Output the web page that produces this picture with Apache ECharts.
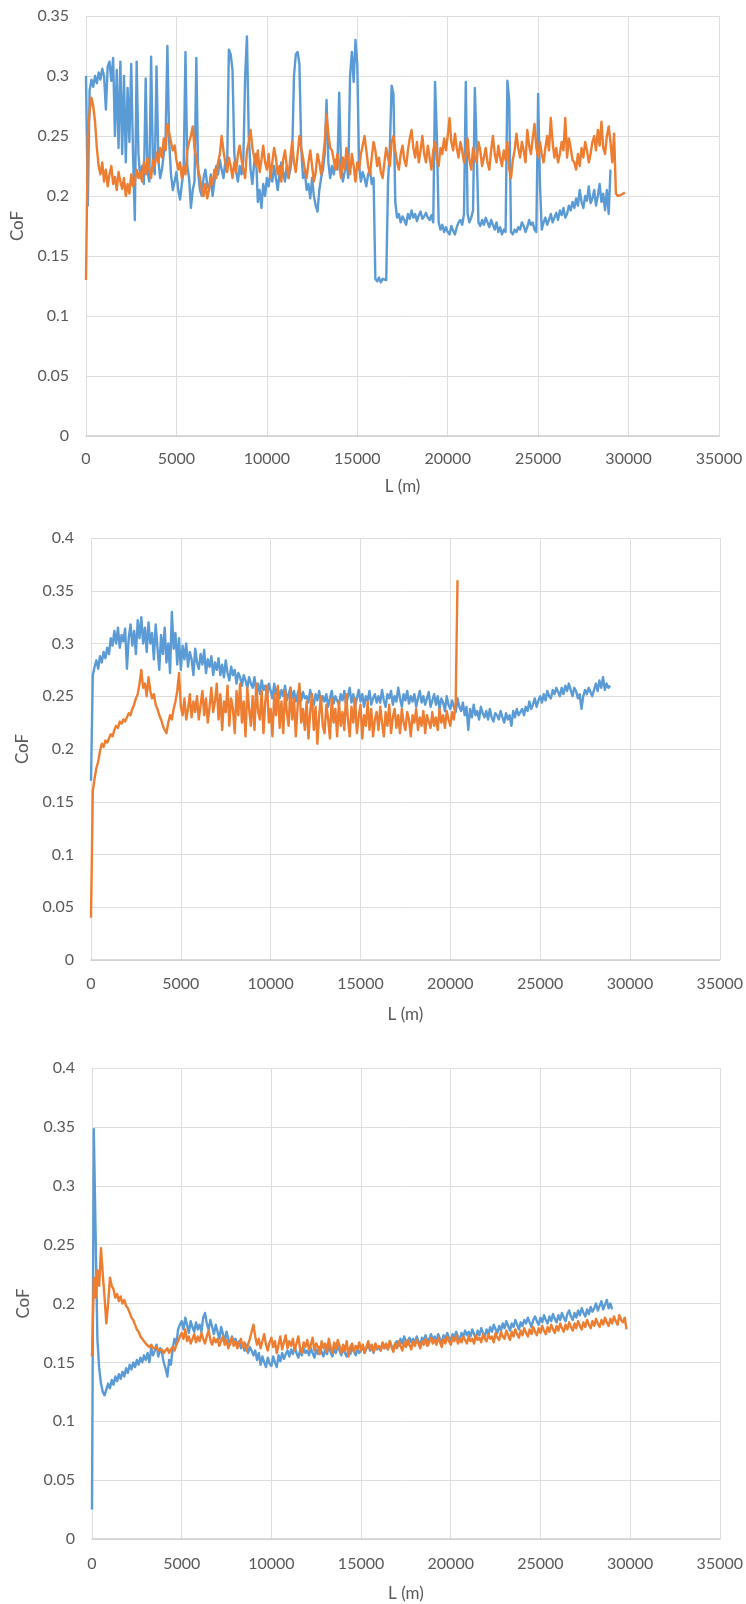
<!DOCTYPE html>
<html>
<head>
<meta charset="utf-8">
<script src="https://cdn.jsdelivr.net/npm/echarts@6/dist/echarts.min.js"></script>
<style>
  html, body { margin: 0; padding: 0; background: #ffffff; }
  #chart { width: 746px; height: 1604px; }
</style>
</head>
<body>
<div id="chart"></div>
<script>
// Coefficient of friction (CoF) against sliding distance L (m), three test panels.
// Each series is sampled every STEP_M metres starting at 0 m.
const STEP_M = 100;

// Panel 1
const panel1Blue = [
  .300,.192,.288,.297,.291,.300,.294,.303,.297,.306,
  .300,.272,.308,.312,.296,
  .315,.250,.305,.240,.312,.235,.300,.228,.290,.245,.310,.236,
  .180,.312,.235,
  .215,.225,.210,.298,.220,.212,.316,.228,.218,.308,
  .230,.215,.222,.235,.248,.325,.245,.218,.205,.212,
  .220,.205,.197,.210,.222,.320,.225,.215,.190,.205,
  .212,.315,.220,.205,.200,.215,.222,.210,.205,.218,
  .200,.212,.225,.218,.230,.222,.215,.228,.220,.322,
  .318,.305,.235,.220,.212,.225,.218,.230,.300,.333,
  .250,.222,.210,.228,.235,.195,.205,.190,.210,.200,
  .215,.208,.220,.212,.225,.215,.205,.218,.228,.220,
  .212,.225,.215,.222,.235,.300,.318,.320,.310,.240,
  .215,.220,.205,.210,.198,.215,.200,.192,.187,.205,
  .215,.222,.235,.280,.228,.215,.225,.218,.230,.222,
  .286,.225,.212,.220,.230,.215,.300,.320,.295,.330,
  .310,.225,.212,.220,.215,.208,.218,.222,.210,.215,
  .131,.129,.132,.128,.131,.130,.130,.212,.240,.292,
  .285,.195,.182,.185,.178,.183,.180,.176,.185,.181,
  .188,.182,.185,.179,.184,.187,.181,.183,.186,.182,
  .180,.184,.178,.295,.250,.178,.172,.176,.170,.174,
  .170,.168,.175,.171,.168,.174,.178,.180,.176,.185,
  .295,.185,.178,.182,.188,.290,.240,.178,.175,.180,
  .176,.182,.178,.174,.180,.176,.172,.178,.170,.174,
  .168,.172,.170,.296,.280,.170,.168,.172,.170,.174,
  .172,.178,.175,.170,.174,.180,.176,.178,.172,.170,
  .285,.210,.172,.178,.182,.176,.180,.185,.178,.182,
  .186,.180,.188,.184,.190,.182,.185,.192,.188,.195,
  .190,.198,.192,.205,.195,.190,.200,.196,.208,.194,
  .198,.205,.192,.200,.210,.195,.202,.188,.205,.185,.222
];
const panel1Orange = [
  .130,.250,.270,.282,.275,.262,.240,.225,.218,.228,
  .212,.222,.208,.218,.225,.210,.216,.205,.220,.212,
  .206,.215,.200,.210,.202,.218,.208,.212,.222,.215,
  .220,.212,.228,.218,.232,.222,.215,.230,.225,.236,
  .228,.240,.232,.248,.238,.260,.252,.245,.238,.242,
  .230,.222,.228,.215,.225,.218,.238,.245,.250,.258,
  .240,.232,.222,.215,.205,.200,.210,.198,.205,.215,
  .210,.222,.215,.228,.235,.250,.238,.228,.220,.232,
  .225,.215,.228,.220,.235,.242,.230,.222,.215,.238,
  .245,.255,.240,.232,.225,.238,.220,.230,.242,.228,
  .222,.235,.215,.228,.240,.232,.218,.225,.212,.230,
  .238,.225,.215,.232,.245,.228,.220,.235,.250,.240,
  .232,.222,.215,.228,.238,.225,.212,.220,.235,.228,
  .218,.230,.245,.268,.252,.240,.238,.230,.222,.235,
  .228,.215,.232,.222,.240,.230,.218,.235,.225,.212,
  .228,.222,.235,.242,.250,.238,.225,.218,.232,.245,
  .238,.225,.232,.220,.215,.228,.240,.232,.225,.245,
  .250,.238,.228,.222,.235,.242,.230,.225,.238,.248,
  .255,.240,.232,.245,.228,.238,.250,.235,.228,.242,
  .232,.222,.238,.245,.230,.225,.240,.235,.248,.238,
  .250,.265,.245,.238,.252,.240,.232,.245,.238,.228,
  .235,.248,.230,.222,.240,.232,.228,.245,.238,.225,
  .232,.240,.228,.222,.238,.250,.235,.228,.242,.232,
  .225,.238,.230,.245,.222,.215,.230,.238,.252,.240,
  .232,.245,.238,.228,.255,.242,.235,.248,.260,.240,
  .232,.245,.235,.228,.240,.250,.238,.265,.245,.232,
  .240,.228,.235,.245,.238,.265,.232,.248,.240,.230,
  .228,.222,.235,.225,.240,.232,.245,.238,.228,.235,
  .245,.250,.238,.255,.242,.262,.240,.235,.250,.258,
  .245,.228,.252,.202,.200,.200,.201,.202,.203
];

// Panel 2
const panel2Blue = [
  .170,.270,.278,.284,.276,.288,.282,.292,.286,.296,
  .290,.305,.298,.312,.300,.315,.296,.308,.302,.314,
  .276,.305,.318,.298,.312,.290,.322,.305,.325,.300,
  .315,.292,.320,.300,.310,.285,.318,.296,.275,.308,
  .290,.315,.282,.300,.272,.330,.295,.310,.280,.305,
  .275,.298,.285,.300,.278,.292,.285,.270,.295,.282,
  .276,.290,.280,.294,.272,.285,.278,.288,.270,.282,
  .275,.286,.270,.280,.268,.284,.272,.265,.278,.270,
  .275,.262,.272,.268,.260,.270,.265,.258,.268,.262,
  .258,.268,.255,.262,.252,.265,.256,.260,.250,.262,
  .255,.248,.262,.252,.258,.248,.256,.250,.260,.246,
  .252,.258,.248,.255,.245,.252,.258,.246,.254,.248,
  .250,.244,.256,.248,.242,.252,.246,.255,.244,.250,
  .245,.252,.240,.248,.255,.243,.250,.246,.242,.252,
  .246,.255,.242,.250,.258,.244,.252,.240,.248,.256,
  .245,.252,.240,.250,.246,.255,.242,.248,.252,.244,
  .250,.244,.256,.246,.240,.252,.248,.255,.242,.250,
  .245,.258,.248,.240,.252,.246,.255,.243,.250,.245,
  .252,.240,.248,.255,.244,.250,.242,.248,.254,.240,
  .246,.252,.242,.250,.238,.248,.244,.236,.250,.242,
  .238,.246,.240,.235,.248,.240,.236,.244,.232,.240,
  .218,.238,.230,.242,.232,.236,.228,.240,.234,.230,
  .236,.228,.238,.230,.226,.234,.232,.228,.236,.230,
  .225,.234,.228,.232,.222,.236,.230,.238,.232,.235,
  .238,.232,.240,.236,.245,.238,.242,.248,.240,.246,
  .250,.244,.252,.246,.255,.250,.248,.256,.252,.258,
  .254,.250,.258,.252,.260,.255,.262,.256,.250,.258,
  .255,.248,.252,.238,.250,.256,.252,.258,.254,.250,
  .256,.262,.255,.265,.258,.268,.256,.262,.258,.260
];
const panel2Orange = [
  .040,.160,.172,.182,.188,.198,.205,.202,.208,.206,
  .210,.214,.212,.218,.222,.220,.226,.224,.228,.226,
  .230,.234,.232,.238,.242,.248,.252,.262,.275,.258,
  .262,.250,.268,.255,.248,.252,.242,.238,.232,.228,
  .222,.218,.215,.225,.232,.228,.238,.245,.255,.272,
  .240,.232,.248,.228,.238,.252,.230,.245,.235,.250,
  .228,.242,.255,.232,.248,.225,.240,.258,.235,.245,
  .262,.228,.252,.218,.245,.235,.260,.222,.248,.238,
  .215,.255,.232,.262,.225,.245,.212,.258,.238,.222,
  .250,.218,.262,.235,.228,.255,.215,.245,.260,.225,
  .238,.212,.252,.232,.260,.220,.245,.215,.255,.235,
  .222,.258,.228,.248,.212,.240,.262,.225,.238,.218,
  .245,.210,.235,.252,.218,.240,.205,.232,.250,.222,
  .215,.242,.228,.210,.248,.225,.238,.212,.245,.222,
  .235,.218,.252,.228,.212,.240,.225,.248,.215,.230,
  .242,.210,.232,.222,.245,.218,.238,.212,.228,.235,
  .218,.240,.225,.212,.235,.222,.242,.215,.230,.238,
  .220,.232,.215,.238,.225,.218,.235,.228,.212,.232,
  .225,.238,.218,.230,.222,.236,.215,.232,.226,.220,
  .235,.222,.230,.218,.238,.225,.232,.220,.236,.228,
  .222,.235,.228,.244,.360
];

// Panel 3
const panel3Blue = [
  .025,.348,.260,.170,.145,.132,.125,.122,.127,.132,
  .128,.135,.131,.138,.134,.140,.136,.142,.138,.145,
  .141,.148,.144,.150,.146,.152,.148,.154,.150,.156,
  .152,.158,.150,.162,.156,.160,.165,.155,.162,.158,
  .150,.145,.138,.152,.148,.162,.170,.165,.178,.182,
  .185,.178,.188,.182,.175,.185,.180,.176,.184,.178,
  .182,.176,.188,.192,.183,.178,.186,.180,.174,.182,
  .176,.170,.180,.174,.168,.176,.170,.165,.172,.168,
  .170,.164,.168,.162,.166,.160,.165,.158,.163,.160,
  .156,.160,.152,.158,.148,.155,.150,.146,.154,.149,
  .147,.155,.150,.146,.156,.151,.158,.153,.157,.160,
  .155,.161,.157,.163,.158,.154,.160,.156,.162,.158,
  .160,.156,.162,.158,.154,.161,.157,.163,.159,.155,
  .161,.157,.164,.159,.155,.162,.158,.165,.160,.156,
  .162,.158,.155,.161,.157,.163,.159,.156,.162,.158,
  .160,.164,.158,.162,.166,.160,.163,.158,.165,.161,
  .163,.160,.166,.162,.165,.161,.168,.164,.160,.166,
  .168,.164,.170,.166,.172,.168,.165,.171,.167,.170,
  .166,.172,.168,.165,.171,.169,.173,.167,.170,.174,
  .169,.172,.168,.174,.170,.167,.173,.170,.175,.171,
  .168,.174,.171,.176,.172,.169,.175,.172,.177,.173,
  .176,.172,.178,.174,.170,.177,.173,.179,.175,.172,
  .178,.174,.180,.176,.182,.178,.175,.181,.177,.183,
  .179,.185,.181,.177,.183,.180,.186,.182,.178,.184,
  .181,.186,.183,.188,.184,.180,.186,.189,.185,.182,
  .188,.184,.190,.186,.183,.189,.185,.191,.187,.184,
  .190,.186,.192,.188,.185,.191,.194,.189,.186,.192,
  .188,.194,.190,.196,.192,.189,.195,.191,.197,.193,
  .196,.200,.194,.198,.202,.195,.199,.203,.196,.200,.195
];
const panel3Orange = [
  .155,.222,.205,.228,.215,.247,.225,.205,.183,.200,
  .222,.215,.212,.205,.208,.202,.206,.200,.203,.198,
  .196,.192,.188,.186,.182,.178,.176,.172,.170,.168,
  .166,.165,.163,.165,.162,.161,.163,.160,.159,.161,
  .158,.160,.162,.158,.161,.163,.160,.165,.168,.172,
  .175,.170,.178,.168,.172,.166,.170,.174,.167,.172,
  .168,.175,.170,.166,.172,.177,.169,.165,.171,.167,
  .170,.164,.168,.172,.165,.169,.162,.167,.171,.164,
  .168,.162,.166,.170,.163,.167,.160,.165,.170,.176,
  .182,.172,.165,.170,.162,.168,.174,.165,.160,.167,
  .171,.163,.168,.158,.165,.172,.161,.167,.173,.162,
  .168,.164,.170,.160,.166,.172,.162,.158,.167,.163,
  .169,.161,.165,.171,.160,.166,.163,.157,.168,.162,
  .166,.159,.170,.163,.158,.167,.161,.169,.164,.158,
  .165,.160,.168,.155,.163,.166,.159,.164,.161,.167,
  .160,.165,.158,.163,.168,.161,.165,.159,.166,.162,
  .164,.160,.167,.162,.166,.161,.168,.163,.159,.166,
  .162,.168,.164,.160,.167,.163,.169,.165,.161,.168,
  .164,.169,.166,.162,.168,.165,.170,.164,.167,.171,
  .166,.169,.165,.171,.167,.163,.170,.166,.172,.168,
  .165,.171,.168,.173,.166,.170,.167,.172,.169,.166,
  .172,.168,.170,.166,.173,.169,.171,.167,.174,.170,
  .168,.174,.170,.172,.167,.175,.171,.169,.176,.172,
  .170,.177,.173,.169,.176,.172,.178,.174,.171,.177,
  .173,.179,.175,.172,.178,.174,.180,.176,.173,.179,
  .175,.181,.177,.174,.180,.176,.182,.178,.175,.181,
  .177,.183,.179,.176,.182,.178,.184,.180,.177,.183,
  .179,.185,.181,.178,.184,.180,.186,.182,.179,.185,
  .181,.187,.183,.180,.186,.182,.188,.184,.181,.187,
  .183,.189,.185,.182,.190,.186,.184,.188,.178
];

// Axis extents
const xMaxM = 35000;
const xStepM = 5000;
const yMaxes = [0.35, 0.4, 0.4];
const yStep = 0.05;

const BLUE = '#5B9BD5';
const ORANGE = '#ED7D31';
const TEXT = '#595959';
const FONT = 'Lato, "Open Sans", sans-serif';

// Plot areas for the three stacked panels (pixels) and their x-axis text offsets
const layout = [
  { left: 86, top: 16, width: 633, height: 420, labelMargin: 15, nameGap: 42 },
  { left: 91, top: 538, width: 633, height: 422, labelMargin: 16, nameGap: 46 },
  { left: 92, top: 1068, width: 635, height: 471, labelMargin: 17, nameGap: 46 }
];

function toPairs(values) {
  return values.map((v, i) => [i * STEP_M, v]);
}

const panels = [
  [panel1Blue, panel1Orange],
  [panel2Blue, panel2Orange],
  [panel3Blue, panel3Orange]
];

const option = {
  animation: false,
  backgroundColor: '#ffffff',
  textStyle: { fontFamily: FONT },
  grid: layout.map(g => ({ left: g.left, top: g.top, width: g.width, height: g.height, containLabel: false })),
  xAxis: layout.map((g, k) => ({
    type: 'value',
    gridIndex: k,
    min: 0,
    max: xMaxM,
    interval: xStepM,
    axisLine: { show: true, lineStyle: { color: '#cfcfcf', width: 1.5 } },
    axisTick: { show: false },
    splitLine: { show: true, lineStyle: { color: '#dedede', width: 1 } },
    axisLabel: {
      color: TEXT, fontSize: 16, fontFamily: FONT, margin: g.labelMargin,
      formatter: v => String(v)
    },
    name: 'L (m)',
    nameLocation: 'middle',
    nameGap: g.nameGap,
    nameTextStyle: { color: TEXT, fontSize: 17, fontFamily: FONT }
  })),
  yAxis: layout.map((g, k) => ({
    type: 'value',
    gridIndex: k,
    min: 0,
    max: yMaxes[k],
    interval: yStep,
    axisLine: { show: false },
    axisTick: { show: false },
    splitLine: { show: true, lineStyle: { color: '#dedede', width: 1 } },
    axisLabel: {
      color: TEXT, fontSize: 16, fontFamily: FONT, margin: 17,
      formatter: v => String(parseFloat(v.toFixed(2)))
    },
    name: 'CoF',
    nameLocation: 'middle',
    nameGap: 55,
    nameTextStyle: { color: TEXT, fontSize: 17, fontFamily: FONT }
  })),
  series: []
};

panels.forEach((pair, k) => {
  [BLUE, ORANGE].forEach((color, j) => {
    option.series.push({
      type: 'line',
      xAxisIndex: k,
      yAxisIndex: k,
      data: toPairs(pair[j]),
      showSymbol: false,
      symbol: 'none',
      sampling: null,
      smooth: false,
      z: 2 + j,
      lineStyle: { color: color, width: 2.4, join: 'round' },
      itemStyle: { color: color }
    });
  });
});

const chart = echarts.init(document.getElementById('chart'), null, { renderer: 'canvas' });
chart.setOption(option);
</script>
</body>
</html>
